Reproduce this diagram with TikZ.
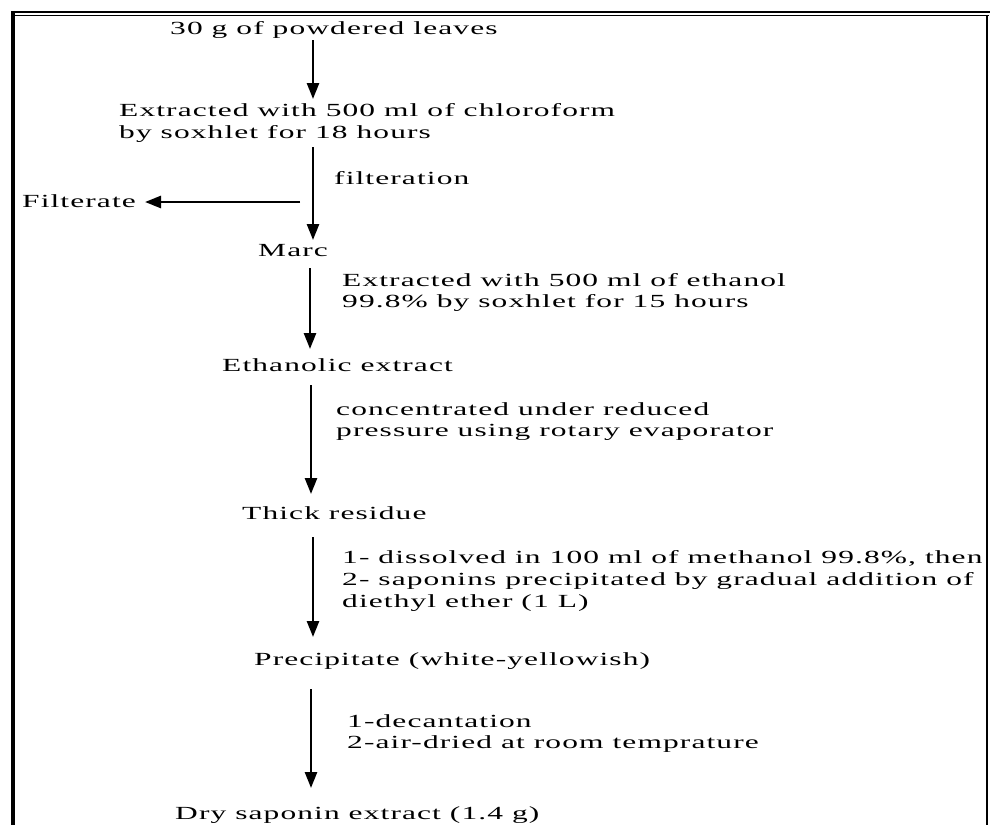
\documentclass[tikz,border=0pt]{standalone}
\usepackage{fontspec}
\setmainfont{Liberation Serif}[FakeStretch=1.7,LetterSpace=6]
\usetikzlibrary{arrows.meta}
\tikzset{
  lbl/.style={anchor=base west,inner sep=0pt,font=\fontsize{18.5}{22}\selectfont},
  flowarrow/.style={line width=2.6pt,-{Triangle[width=12pt,length=16pt]}},
}
\begin{document}
\begin{tikzpicture}[x=1pt,y=-1pt]
\useasboundingbox (0,0) rectangle (990,825);
% frame
\draw[line width=2.5pt] (11,12) -- (990,12);
\draw[line width=1.2pt] (15,15.5) -- (989,15.5);
\draw[line width=4pt] (13,10.75) -- (13,825);
\draw[line width=2pt] (987,15) -- (987,825);
% texts
\node[lbl] (t1) at (170,34) {30 g of powdered leaves};
\node[lbl] (t2a) at (119,116) {Extracted with 500 ml of chloroform};
\node[lbl] (t2b) at (119,138) {by soxhlet for 18 hours};
\node[lbl] (filt) at (334,184) {filteration};
\node[lbl] (filtr) at (22,207) {Filterate};
\node[lbl] (marc) at (258,256) {Marc};
\node[lbl] (e1a) at (342,286) {Extracted with 500 ml of ethanol};
\node[lbl] (e1b) at (342,307) {99.8\% by soxhlet for 15 hours};
\node[lbl] (eth) at (222,371) {Ethanolic extract};
\node[lbl] (c1a) at (336,415) {concentrated under reduced};
\node[lbl] (c1b) at (336,436) {pressure using rotary evaporator};
\node[lbl] (thick) at (242,519) {Thick residue};
\node[lbl] (d1a) at (342,563) {1- dissolved in 100 ml of methanol 99.8\%, then};
\node[lbl] (d1b) at (342,585) {2- saponins precipitated by gradual addition of};
\node[lbl] (d1c) at (342,607) {diethyl ether (1 L)};
\node[lbl] (prec) at (254,665) {Precipitate (white-yellowish)};
\node[lbl] (s1a) at (347,727) {1-decantation};
\node[lbl] (s1b) at (347,748) {2-air-dried at room temprature};
\node[lbl] (dry) at (175,819) {Dry saponin extract (1.4 g)};
% arrow end points
\coordinate (a1s) at (313,40);  \coordinate (a1e) at (313,99);
\coordinate (a2s) at (313,147); \coordinate (a2e) at (313,240);
\coordinate (fs) at (300,202);  \coordinate (fe) at (145,202);
\coordinate (a3s) at (310,268); \coordinate (a3e) at (310,349);
\coordinate (a4s) at (311,385); \coordinate (a4e) at (311,494);
\coordinate (a5s) at (313,537); \coordinate (a5e) at (313,637);
\coordinate (a6s) at (311,689); \coordinate (a6e) at (311,788);
\draw[flowarrow] (a1s) -- (a1e);
\draw[flowarrow] (a2s) -- (a2e);
\draw[flowarrow] (fs) -- (fe);
\draw[flowarrow] (a3s) -- (a3e);
\draw[flowarrow] (a4s) -- (a4e);
\draw[flowarrow] (a5s) -- (a5e);
\draw[flowarrow] (a6s) -- (a6e);
\end{tikzpicture}
\end{document}
